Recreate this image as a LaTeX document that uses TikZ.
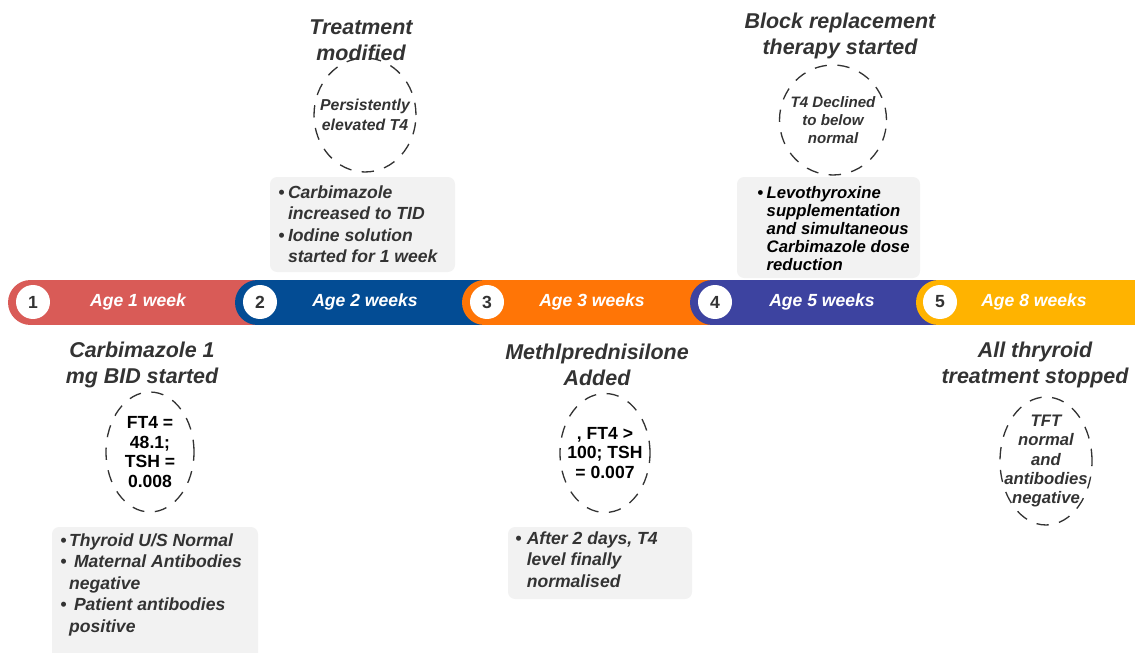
\documentclass[tikz,border=0pt]{standalone}
\usepackage{fontspec}
\setmainfont{Liberation Sans}
\usepackage{tikz}
\usetikzlibrary{shapes.geometric, positioning}
\definecolor{agered}{HTML}{D95B57}
\definecolor{ageblue}{HTML}{034C94}
\definecolor{ageorange}{HTML}{FF7506}
\definecolor{ageindigo}{HTML}{3D43A0}
\definecolor{ageamber}{HTML}{FFB300}
\definecolor{boxgray}{HTML}{F2F2F2}
\definecolor{textgray}{HTML}{333333}

\begin{document}
\begin{tikzpicture}[x=0.02cm, y=-0.02cm,
    agelabel/.style={text=white, font=\fontsize{10}{12}\selectfont\bfseries\itshape},
    stepdot/.style={circle, fill=white, minimum size=0.68cm, inner sep=0pt, text=textgray, font=\fontsize{10}{12}\selectfont\bfseries},
    eventtitle/.style={align=center, text=textgray, font=\fontsize{12.2}{14.7}\selectfont\bfseries\itshape},
    labring/.style={ellipse, draw=textgray, line width=0.75pt, dash pattern=on 7pt off 6pt, inner sep=0pt},
    labvalue/.style={align=center, text=black, font=\fontsize{10}{11.3}\selectfont\bfseries},
    labnote/.style={align=center, text=textgray, font=\fontsize{9}{11.3}\selectfont\bfseries\itshape},
    notebox/.style={fill=boxgray, rounded corners=4pt},
    notetext/.style={anchor=north west, inner sep=0pt, align=left, text=textgray, font=\fontsize{10}{12.2}\selectfont\bfseries\itshape}
]
    \clip (0,0) rectangle (1135,652);

    % Timeline band
    \fill[agered] (30.5,302.5) circle[radius=0.45cm];
    \fill[agered] (30.5,280) rectangle (300,325);
    \fill[ageblue] (257.5,302.5) circle[radius=0.45cm];
    \fill[ageblue] (257.5,280) rectangle (520,325);
    \fill[ageorange] (484.5,302.5) circle[radius=0.45cm];
    \fill[ageorange] (484.5,280) rectangle (750,325);
    \fill[ageindigo] (712.5,302.5) circle[radius=0.45cm];
    \fill[ageindigo] (712.5,280) rectangle (970,325);
    \fill[ageamber] (938.5,302.5) circle[radius=0.45cm];
    \fill[ageamber] (938.5,280) rectangle (1135,325);

    \node[stepdot] (n1) at (33,302) {1};
    \node[agelabel] (a1) at (138,302) {Age 1 week};
    \node[stepdot] (n2) at (260,302) {2};
    \node[agelabel] (a2) at (365,302) {Age 2 weeks};
    \node[stepdot] (n3) at (487,302) {3};
    \node[agelabel] (a3) at (592,302) {Age 3 weeks};
    \node[stepdot] (n4) at (715,302) {4};
    \node[agelabel] (a4) at (822,302) {Age 5 weeks};
    \node[stepdot] (n5) at (940,302) {5};
    \node[agelabel] (a5) at (1034,302) {Age 8 weeks};

    % Age 1 week
    \node[eventtitle] (t1) at (142,365) {Carbimazole 1\\mg BID started};
    \node[labring, minimum width=1.76cm, minimum height=2.4cm] (e1) at (150,452) {};
    \node[labvalue] (v1) at (e1) {FT4 =\\48.1;\\TSH =\\0.008};
    \fill[notebox] (52,527) rectangle (258,670);
    \node[notetext] (b1) at (60,531) {\begin{tabular}{@{}l@{\hspace{1.5pt}}l@{}}
        \textbullet & Thyroid U/S Normal\\
        \textbullet & \ Maternal Antibodies\\
        & negative\\
        \textbullet & \ Patient antibodies\\
        & positive
    \end{tabular}};

    % Age 2 weeks
    \node[eventtitle] (t2) at (361,40) {Treatment\\modified};
    \node[labring, minimum width=2.04cm, minimum height=2.28cm] (e2) at (365,115) {};
    \node[labnote] (v2) at (e2) {Persistently\\elevated T4};
    \fill[notebox] (270,177) rectangle (455,272);
    \node[notetext] (b2) at (278,183) {\begin{tabular}{@{}l@{\hspace{2pt}}l@{}}
        \textbullet & Carbimazole\\
        & increased to TID\\
        \textbullet & Iodine solution\\
        & started for 1 week
    \end{tabular}};

    % Age 3 weeks
    \node[eventtitle] (t3) at (597,365) {Methlprednisilone\\Added};
    \node[labring, minimum width=1.8cm, minimum height=2.38cm] (e3) at (605,453) {};
    \node[labvalue] (v3) at (e3) {, FT4 >\\100; TSH\\= 0.007};
    \fill[notebox] (508,527) rectangle (692,599);
    \node[notetext] (b3) at (515,529) {\begin{tabular}{@{}l@{\hspace{3pt}}l@{}}
        \textbullet & After 2 days, T4\\
        & level finally\\
        & normalised
    \end{tabular}};

    % Age 5 weeks
    \node[eventtitle] (t4) at (840,36) {Block replacement\\therapy started};
    \node[labring, minimum width=2.14cm, minimum height=2.2cm] (e4) at (833,120) {};
    \node[labnote, font=\fontsize{8.6}{10.2}\selectfont\bfseries\itshape] (v4) at (e4) {T4 Declined\\to below\\normal};
    \fill[notebox] (737,177) rectangle (920,278);
    \node[notetext, text=black, font=\fontsize{9.5}{10.3}\selectfont\bfseries\itshape] (b4) at (757,185) {\begin{tabular}{@{}l@{\hspace{2pt}}l@{}}
        \textbullet & Levothyroxine\\
        & supplementation\\
        & and simultaneous\\
        & Carbimazole dose\\
        & reduction
    \end{tabular}};

    % Age 8 weeks
    \node[eventtitle] (t5) at (1035,365) {All thryroid\\treatment stopped};
    \node[labring, minimum width=1.84cm, minimum height=2.56cm] (e5) at (1046,461) {};
    \node[labnote, font=\fontsize{9.5}{11}\selectfont\bfseries\itshape] (v5) at (e5) {TFT\\normal\\and\\antibodies\\negative};
\end{tikzpicture}
\end{document}
